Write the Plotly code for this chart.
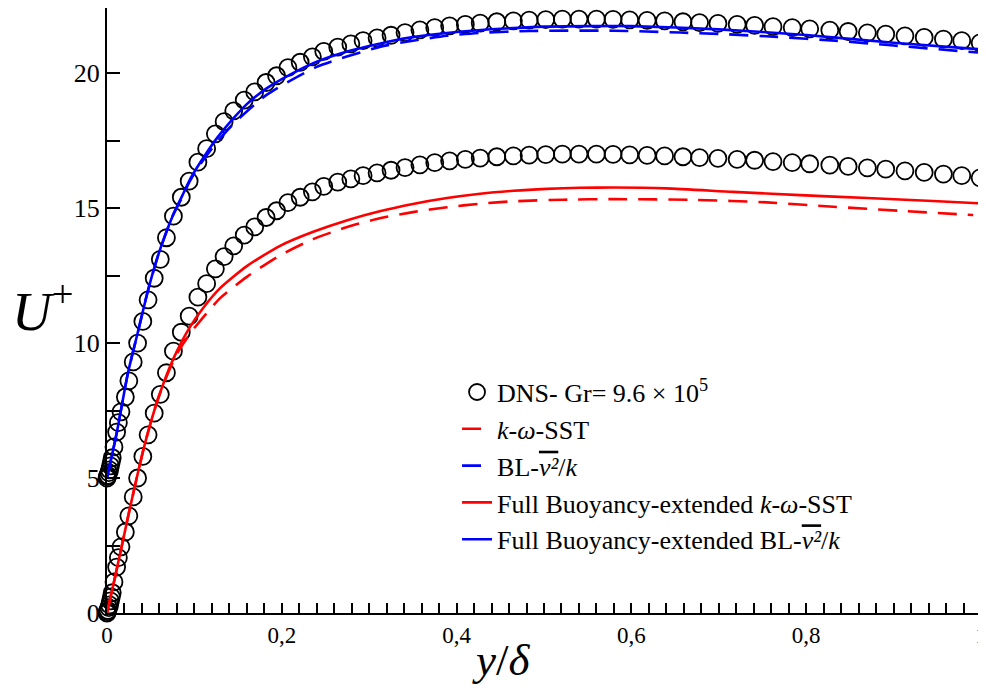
import plotly.graph_objects as go

# ---------------- data ----------------
# DNS profile, Gr = 9.6e5 (lower set, compared with k-omega-SST models)
dns_y = [0.000, 0.0005, 0.001, 0.002, 0.003, 0.004, 0.005, 0.006, 0.008, 0.011,
         0.013, 0.016, 0.021, 0.025, 0.030, 0.035, 0.041, 0.047, 0.054, 0.061,
         0.068, 0.076, 0.085, 0.094, 0.104, 0.114, 0.124, 0.134, 0.145, 0.157,
         0.169, 0.182, 0.194, 0.207, 0.221, 0.235, 0.248, 0.264, 0.279, 0.293,
         0.309, 0.325, 0.341, 0.358, 0.375, 0.392, 0.410, 0.427, 0.446, 0.465,
         0.483, 0.502, 0.521, 0.540, 0.560, 0.579, 0.598, 0.618, 0.638, 0.659,
         0.678, 0.699, 0.721, 0.741, 0.762, 0.784, 0.804, 0.827, 0.848, 0.870,
         0.891, 0.913, 0.935, 0.957, 0.978, 0.999]
dns_u_lower = [0.00, 0.05, 0.10, 0.20, 0.30, 0.45, 0.60, 0.75, 1.15, 1.70,
               2.05, 2.45, 3.00, 3.60, 4.30, 5.00, 5.80, 6.60, 7.40, 8.10,
               8.90, 9.70, 10.40, 11.00, 11.70, 12.20, 12.75, 13.20, 13.60, 14.00,
               14.30, 14.65, 14.90, 15.20, 15.40, 15.60, 15.80, 15.96, 16.08, 16.20,
               16.30, 16.40, 16.50, 16.60, 16.68, 16.75, 16.80, 16.85, 16.90, 16.93,
               16.96, 16.98, 17.00, 17.00, 17.00, 16.99, 16.97, 16.95, 16.93, 16.90,
               16.87, 16.84, 16.80, 16.77, 16.72, 16.68, 16.64, 16.59, 16.54, 16.49,
               16.44, 16.38, 16.32, 16.26, 16.20, 16.12]
# same DNS profile drawn shifted (+5) for the BL-v2/k comparison
dns_u_upper = [5.00, 5.05, 5.10, 5.20, 5.30, 5.45, 5.60, 5.75, 6.15, 6.70,
               7.05, 7.45, 8.00, 8.60, 9.30, 10.00, 10.80, 11.60, 12.40, 13.10,
               13.90, 14.70, 15.40, 16.00, 16.70, 17.20, 17.75, 18.20, 18.60, 19.00,
               19.30, 19.65, 19.90, 20.20, 20.40, 20.60, 20.80, 20.96, 21.08, 21.20,
               21.30, 21.40, 21.50, 21.60, 21.68, 21.75, 21.80, 21.85, 21.90, 21.93,
               21.96, 21.98, 22.00, 22.00, 22.00, 21.99, 21.97, 21.95, 21.93, 21.90,
               21.87, 21.84, 21.80, 21.77, 21.72, 21.68, 21.64, 21.59, 21.54, 21.49,
               21.44, 21.38, 21.32, 21.26, 21.20, 21.12]

# k-omega-SST (red dashed)
sst_y = [0, 0.009, 0.018, 0.026, 0.034, 0.042, 0.050, 0.058, 0.068, 0.080,
         0.095, 0.110, 0.130, 0.160, 0.198, 0.236, 0.275, 0.312, 0.350, 0.389,
         0.427, 0.465, 0.522, 0.579, 0.675, 0.755, 0.831, 0.907, 0.991]
sst_u = [0, 1.30, 2.65, 3.85, 5.00, 6.10, 7.05, 7.90, 8.75, 9.60,
         10.35, 10.95, 11.68, 12.45, 13.25, 13.85, 14.30, 14.62, 14.85, 15.03,
         15.16, 15.25, 15.31, 15.33, 15.30, 15.21, 15.05, 14.90, 14.74]

# BL-v2/k (blue dashed, shifted +5)
bl_y = [0, 0.011, 0.024, 0.035, 0.047, 0.059, 0.075, 0.086, 0.094, 0.103,
        0.114, 0.126, 0.144, 0.183, 0.240, 0.312, 0.350, 0.389, 0.427, 0.484,
        0.580, 0.656, 0.700, 0.767, 0.833, 0.900, 1.000]
bl_u = [5.00, 6.65, 8.90, 10.36, 11.96, 13.30, 14.70, 15.40, 15.95, 16.45,
        16.95, 17.45, 18.10, 19.20, 20.23, 20.97, 21.20, 21.38, 21.49, 21.56,
        21.57, 21.50, 21.45, 21.34, 21.20, 21.02, 20.75]

# Full buoyancy-extended k-omega-SST (red solid)
fsst_y = [0, 0.009, 0.018, 0.026, 0.034, 0.042, 0.050, 0.058, 0.068, 0.080,
          0.095, 0.110, 0.130, 0.160, 0.198, 0.236, 0.275, 0.312, 0.350, 0.389,
          0.427, 0.465, 0.503, 0.541, 0.579, 0.640, 0.716, 0.793, 0.870, 0.945, 1.000]
fsst_u = [0, 1.30, 2.65, 3.85, 5.00, 6.10, 7.05, 7.90, 8.80, 9.70,
          10.60, 11.30, 12.05, 12.85, 13.60, 14.12, 14.55, 14.88, 15.15, 15.37,
          15.53, 15.64, 15.71, 15.75, 15.76, 15.73, 15.60, 15.48, 15.37, 15.26, 15.17]

# Full buoyancy-extended BL-v2/k (blue solid, shifted +5)
fbl_y = [0, 0.011, 0.024, 0.035, 0.047, 0.059, 0.075, 0.086, 0.094, 0.103,
         0.114, 0.126, 0.144, 0.160, 0.183, 0.210, 0.240, 0.270, 0.300, 0.324,
         0.350, 0.400, 0.450, 0.500, 0.550, 0.600, 0.700, 0.800, 0.900, 1.000]
fbl_u = [5.00, 6.65, 8.90, 10.36, 11.96, 13.30, 14.70, 15.45, 16.00, 16.50,
         17.05, 17.60, 18.30, 18.85, 19.44, 19.95, 20.42, 20.75, 21.00, 21.18,
         21.33, 21.52, 21.64, 21.72, 21.74, 21.74, 21.62, 21.41, 21.12, 20.88]

x_tickvals = [0, 0.2, 0.4, 0.6, 0.8, 1.0]
x_ticktext = ["0", "0,2", "0,4", "0,6", "0,8", "1"]
y_tickvals = [0, 5, 10, 15, 20]
y_ticktext = ["0", "5", "10", "15", "20"]

names = {
    "dns": "DNS- Gr= 9.6 × 10<sup>5</sup>",
    "sst": "<i>k</i>-<i>ω</i>-SST",
    "bl": "BL-<i><span style=\"text-decoration:overline\">v²</span></i>/<i>k</i>",
    "fsst": "Full Buoyancy-extended <i>k</i>-<i>ω</i>-SST",
    "fbl": "Full Buoyancy-extended BL-<i><span style=\"text-decoration:overline\">v²</span></i>/<i>k</i>",
}

SERIF = "Liberation Serif"
DASH = "19px,11px"
SMOOTH = 0.6

fig = go.Figure()

marker_style = dict(symbol="circle-open", size=17, color="black",
                    line=dict(color="black", width=1.8))

fig.add_trace(go.Scatter(x=dns_y, y=dns_u_lower, mode="markers", marker=marker_style,
                         name=names["dns"], legendgroup="g1", legendrank=1,
                         cliponaxis=False))
fig.add_trace(go.Scatter(x=dns_y, y=dns_u_upper, mode="markers", marker=marker_style,
                         showlegend=False, cliponaxis=False))

fig.add_trace(go.Scatter(x=sst_y, y=sst_u, mode="lines",
                         line=dict(color="#ff0000", width=2.6, dash=DASH,
                                   shape="spline", smoothing=SMOOTH),
                         name=names["sst"], legendgroup="g2", legendrank=2))
fig.add_trace(go.Scatter(x=bl_y, y=bl_u, mode="lines",
                         line=dict(color="#0000ff", width=2.6, dash=DASH,
                                   shape="spline", smoothing=SMOOTH),
                         name=names["bl"], legendgroup="g3", legendrank=3))
fig.add_trace(go.Scatter(x=fsst_y, y=fsst_u, mode="lines",
                         line=dict(color="#ff0000", width=2.6,
                                   shape="spline", smoothing=SMOOTH),
                         name=names["fsst"], legendgroup="g4", legendrank=4))
fig.add_trace(go.Scatter(x=fbl_y, y=fbl_u, mode="lines",
                         line=dict(color="#0000ff", width=2.6,
                                   shape="spline", smoothing=SMOOTH),
                         name=names["fbl"], legendgroup="g5", legendrank=5))

# The page body adds an 8 px offset, so the figure is sized to fit the window.
fig.update_layout(
    width=978, height=680,
    margin=dict(l=99, r=5, t=0, b=75, autoexpand=False),
    paper_bgcolor="white", plot_bgcolor="white",
    font=dict(family=SERIF, size=26, color="black"),
    showlegend=True,
    legend=dict(x=0.4005, y=0.404, xanchor="left", yanchor="top",
                bgcolor="rgba(0,0,0,0)", borderwidth=0,
                font=dict(family=SERIF, size=26, color="black"),
                tracegroupgap=0, itemwidth=30),
)

fig.update_xaxes(
    range=[0, 1], showgrid=False, zeroline=False, automargin=False,
    showline=True, linecolor="black", linewidth=2, mirror=True,
    tickmode="array", tickvals=x_tickvals, ticktext=x_ticktext,
    ticks="inside", ticklen=10, tickwidth=1.8, tickcolor="black",
    ticklabeloverflow="allow",
    tickfont=dict(family=SERIF, size=23, color="black"),
    minor=dict(dtick=0.02, tick0=0, ticks="inside", ticklen=10, tickwidth=1.8,
               tickcolor="black", showgrid=False),
)
fig.update_yaxes(
    range=[0, 22.41], showgrid=False, zeroline=False, automargin=False,
    showline=True, linecolor="black", linewidth=2, mirror=True,
    tickmode="array", tickvals=y_tickvals, ticktext=y_ticktext,
    ticks="inside", ticklen=13, tickwidth=1.8, tickcolor="black",
    ticklabeloverflow="allow",
    tickfont=dict(family=SERIF, size=26, color="black"),
    minor=dict(dtick=2.5, tick0=0, ticks="inside", ticklen=13, tickwidth=1.8,
               tickcolor="black", showgrid=False),
)

# axis titles (upright, as in the reference)
fig.add_annotation(text="<i>U</i><sup>+</sup>", xref="paper", yref="paper",
                   x=-0.074, y=0.505, xanchor="center", yanchor="middle",
                   showarrow=False, font=dict(family=SERIF, size=55, color="black"))
fig.add_annotation(text="<i>y</i>/<i>δ</i>", xref="paper", yref="paper",
                   x=0.451, y=-0.077, xanchor="center", yanchor="middle",
                   showarrow=False, font=dict(family=SERIF, size=45, color="black"))

fig.write_html("out.html")
